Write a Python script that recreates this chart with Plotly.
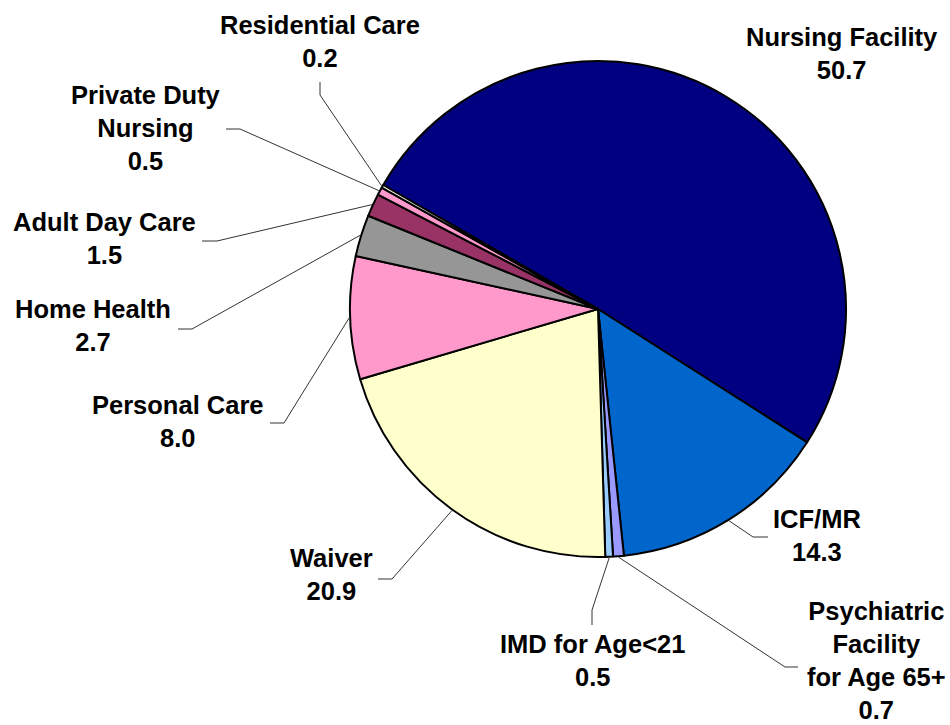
import math
import plotly.graph_objects as go

# ---- data ----
categories = ["Nursing Facility", "ICF/MR", "Psychiatric Facility for Age 65+",
              "IMD for Age<21", "Waiver", "Personal Care", "Home Health",
              "Adult Day Care", "Private Duty Nursing", "Residential Care"]
display_names = ["Nursing Facility", "ICF/MR", "Psychiatric<br>Facility<br>for Age 65+",
                 "IMD for Age<21", "Waiver", "Personal Care", "Home Health",
                 "Adult Day Care", "Private Duty<br>Nursing", "Residential Care"]
values = [50.7, 14.3, 0.7, 0.5, 20.9, 8.0, 2.7, 1.5, 0.5, 0.2]
colors = ["#000080", "#0066CC", "#9999FF", "#99CCFF", "#FFFFCC", "#FF99CC",
          "#969696", "#993366", "#FF99CC", "#FFFFFF"]

# ---- layout constants (pixels) ----
W, H = 950, 725
CX, CY, R = 598, 309, 248
ROTATION = -60

# label centre positions and leader elbows / ends (None = no leader)
label_pos = [(842, 54), (817, 535), (876, 660), (592, 660), (331, 574),
             (178, 421), (93, 325), (104, 238), (146, 128), (320, 41)]
leader = [None,
          [(753, 537), (768, 537)],
          [(785, 667), (798, 667)],
          [(592, 610), (592, 625)],
          [(392, 579), (378, 579)],
          [(284, 423), (270, 423)],
          [(192, 329), (178, 329)],
          [(217, 241), (202, 241)],
          [(240, 129), (226, 129)],
          [(320, 95), (320, 82)]]


def px(x):
    return x / W


def py(y):
    return 1 - y / H


fig = go.Figure()
fig.add_trace(go.Pie(
    labels=categories, values=values, sort=False, direction="clockwise",
    rotation=ROTATION, textinfo="none", showlegend=False,
    marker=dict(colors=colors, line=dict(color="#000000", width=2)),
    domain=dict(x=[px(CX - R), px(CX + R)], y=[py(CY + R), py(CY - R)]),
))

total = sum(values)
cum = 0.0
shapes = []
annotations = []
for i, v in enumerate(values):
    mid = ROTATION + (cum + v / 2) / total * 360.0
    cum += v
    a = math.radians(mid)
    tx = CX + (R + 1) * math.sin(a)
    ty = CY - (R + 1) * math.cos(a)
    if leader[i] is not None:
        (ex, ey), (fx, fy) = leader[i]
        shapes.append(dict(
            type="path", xref="paper", yref="paper",
            path=f"M {px(tx)} {py(ty)} L {px(ex)} {py(ey)} L {px(fx)} {py(fy)}",
            line=dict(color="#333333", width=1)))
    lx, ly = label_pos[i]
    annotations.append(dict(
        x=px(lx), y=py(ly), xref="paper", yref="paper",
        xanchor="center", yanchor="middle", showarrow=False, align="center",
        text=f"<b>{display_names[i]}<br>{v:.1f}</b>",
        font=dict(family="Liberation Sans, Arial", size=25.5, color="#000000")))

fig.update_layout(
    width=W, height=H, margin=dict(l=0, r=0, t=0, b=0),
    paper_bgcolor="white", plot_bgcolor="white",
    shapes=shapes, annotations=annotations,
)
fig.write_html(
    "out.html",
    config={"displayModeBar": False},
    post_script="document.body.style.margin='0';document.body.style.overflow='hidden';",
)
